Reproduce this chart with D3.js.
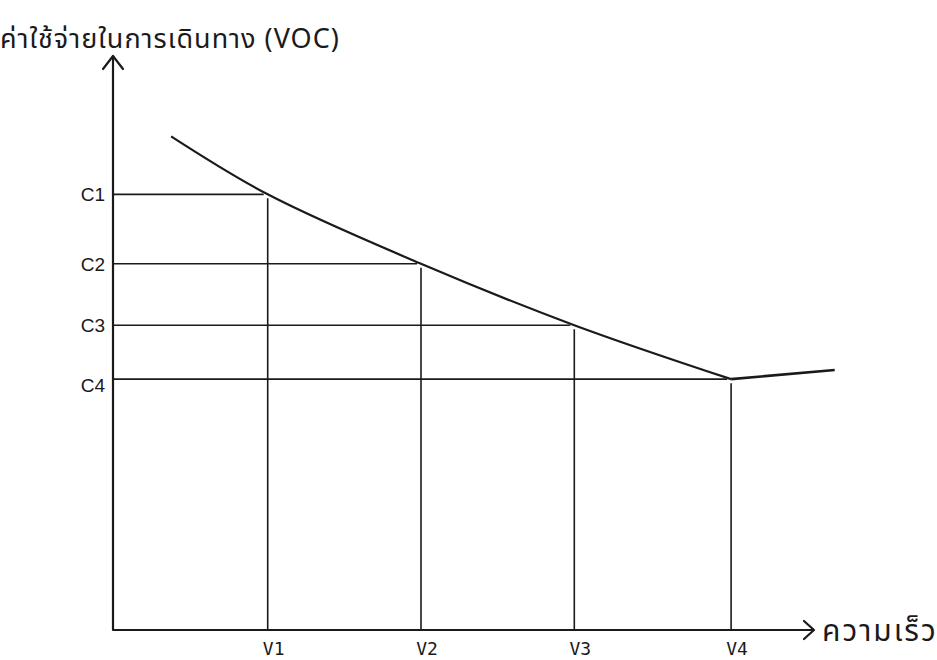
<!DOCTYPE html>
<html>
<head>
<meta charset="utf-8">
<script src="https://cdn.jsdelivr.net/npm/d3@7"></script>
<style>
  html, body { margin: 0; padding: 0; background: #fff; }
  svg { display: block; }
</style>
</head>
<body>
<svg id="chart" width="937" height="660"></svg>
<script>
// ---- data ----
const yTitle = "ค่าใช้จ่ายในการเดินทาง (VOC)";
const xTitle = "ความเร็ว";
const speedLabels = ["V1", "V2", "V3", "V4"];
const speedValues = [22.1, 44.0, 65.9, 88.3];
const costLabels = ["C1", "C2", "C3", "C4"];
const costValues = [75.9, 63.8, 53.1, 43.7];
// VOC curve: speed, cost
const curveSpeed = [8.3, 22.1, 44.0, 65.9, 88.3, 103.1];
const curveCost  = [86.0, 75.9, 63.8, 53.1, 43.7, 45.3];

// ---- layout ----
const svg = d3.select("#chart");
const ox = 113, oy = 630;
const x = d3.scaleLinear().domain([0, 100]).range([ox, 813]);
const y = d3.scaleLinear().domain([0, 100]).range([oy, 56]);
const ink = "#1a1a1a";
const thaiFont = "'Noto Sans Thai', 'Noto Sans', 'DejaVu Sans', sans-serif";
const latFont = "'Liberation Sans', Arial, sans-serif";

// y title
svg.append("text")
  .attr("x", 0).attr("y", 48)
  .attr("font-family", thaiFont).attr("font-size", 27)
  .attr("letter-spacing", 1)
  .attr("fill", ink)
  .text(yTitle);

// guide lines
const pts = speedValues.map((v, i) => ({v, c: costValues[i], sl: speedLabels[i], cl: costLabels[i]}));
const g = svg.append("g").attr("stroke", ink).attr("stroke-width", 1.6).attr("fill", "none");
pts.forEach(p => {
  g.append("line").attr("x1", ox).attr("x2", x(p.v) - 4)
    .attr("y1", y(p.c)).attr("y2", y(p.c));
  g.append("line").attr("x1", x(p.v)).attr("x2", x(p.v))
    .attr("y1", y(p.c) + 4).attr("y2", oy);
});

// axes
const ax = svg.append("g").attr("stroke", ink).attr("stroke-width", 2.2).attr("fill", "none")
  .attr("stroke-linecap", "round").attr("stroke-linejoin", "round");
ax.append("path").attr("d", `M${ox},${oy} L${ox},${y(100)} M${ox},${oy} L${x(100)},${oy}`);
ax.append("path").attr("d", `M${ox - 10},${y(100) + 13} L${ox},${y(100)} L${ox + 10},${y(100) + 13}`);
ax.append("path").attr("d", `M${x(100) - 9},${oy - 9} L${x(100) + 1},${oy} L${x(100) - 9},${oy + 9}`);

// VOC curve
const line = d3.line().x(d => x(d[0])).y(d => y(d[1])).curve(d3.curveCatmullRom.alpha(0.5));
const allPts = curveSpeed.map((s, i) => [s, curveCost[i]]);
svg.append("path").datum(allPts.slice(0, 5))
  .attr("d", line).attr("fill", "none").attr("stroke", ink).attr("stroke-width", 2.2);
svg.append("path").datum(allPts.slice(4))
  .attr("d", d3.line().x(d => x(d[0])).y(d => y(d[1])))
  .attr("fill", "none").attr("stroke", ink).attr("stroke-width", 2.6);

// labels
pts.forEach(p => {
  svg.append("text").attr("x", ox - 8).attr("y", y(p.c) + 7 + (p.cl === "C4" ? 6 : 0))
    .attr("text-anchor", "end").attr("font-family", latFont).attr("font-size", 19)
    .attr("fill", ink).text(p.cl);
  svg.append("text").attr("x", x(p.v) + 6).attr("y", 655)
    .attr("text-anchor", "middle").attr("font-family", "'DejaVu Sans Mono', monospace").attr("font-size", 18)
    .attr("fill", ink).text(p.sl);
});

svg.append("text")
  .attr("x", 822).attr("y", 641)
  .attr("font-family", thaiFont).attr("font-size", 30)
  .attr("letter-spacing", 2)
  .attr("fill", ink)
  .text(xTitle);
</script>
</body>
</html>
